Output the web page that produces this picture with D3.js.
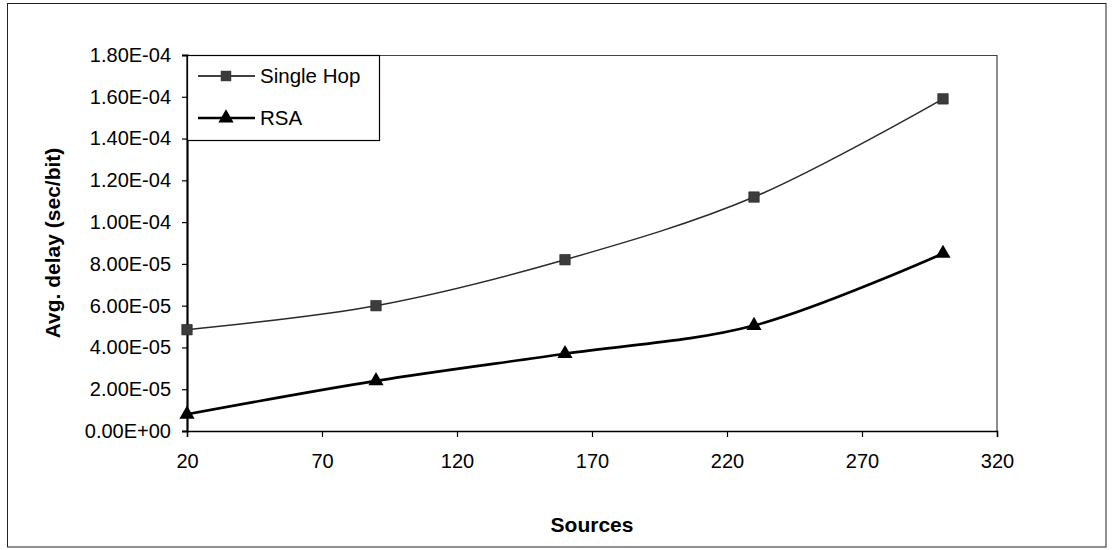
<!DOCTYPE html>
<html>
<head>
<meta charset="utf-8">
<script src="https://cdn.jsdelivr.net/npm/d3@7"></script>
<style>
  body { margin: 0; background: #fff; }
  text { font-family: "Liberation Sans", Arial, sans-serif; fill: #000; }
</style>
</head>
<body>
<div id="chart-area"></div>
<script>
// Data
var sources = [20, 90, 160, 230, 300];
var singleHop = [4.85e-5, 6.0e-5, 8.2e-5, 1.12e-4, 1.59e-4];
var rsa = [8.0e-6, 2.4e-5, 3.7e-5, 5.05e-5, 8.5e-5];

var xTicks = [20, 70, 120, 170, 220, 270, 320];
var yTicks = [0, 2e-5, 4e-5, 6e-5, 8e-5, 1e-4, 1.2e-4, 1.4e-4, 1.6e-4, 1.8e-4];
var yTickLabels = ["0.00E+00", "2.00E-05", "4.00E-05", "6.00E-05", "8.00E-05",
                   "1.00E-04", "1.20E-04", "1.40E-04", "1.60E-04", "1.80E-04"];

var W = 1112, H = 550;
var margin = { left: 187, right: 115, top: 55, bottom: 119 };
var width = W - margin.left - margin.right,
    height = H - margin.top - margin.bottom;

var svg = d3.select("#chart-area")
    .append("svg")
        .attr("width", W)
        .attr("height", H);

// outer frame
svg.append("rect")
    .attr("x", 7.5).attr("y", 3.5)
    .attr("width", W - 6 - 7.5).attr("height", H - 3 - 3.5)
    .attr("fill", "none")
    .attr("stroke", "#222")
    .attr("stroke-width", 1);

var g = svg.append("g")
    .attr("transform", "translate(" + margin.left + ", " + margin.top + ")");

// X Scale
var x = d3.scaleLinear()
    .domain([20, 320])
    .range([0, width]);

// Y Scale
var y = d3.scaleLinear()
    .domain([0, 1.8e-4])
    .range([height, 0]);

// plot area frame (top + right)
g.append("path")
    .attr("d", "M0,0.5H" + width + "V" + height)
    .attr("fill", "none")
    .attr("stroke", "#444")
    .attr("stroke-width", 1.2);

// X Axis
var xAxisCall = d3.axisBottom(x)
    .tickValues(xTicks)
    .tickSize(6)
    .tickPadding(17)
    .tickFormat(function(d){ return d; });
var xAxisGroup = g.append("g")
    .attr("transform", "translate(0," + height + ")")
    .call(xAxisCall);

// Y Axis
var yAxisCall = d3.axisLeft(y)
    .tickValues(yTicks)
    .tickSize(5)
    .tickPadding(11)
    .tickFormat(function(d, i){ return yTickLabels[i]; });
var yAxisGroup = g.append("g")
    .call(yAxisCall);

[xAxisGroup, yAxisGroup].forEach(function(ax){
    ax.selectAll("text")
        .attr("font-size", "20px")
        .attr("font-family", "Liberation Sans, Arial, sans-serif")
        .attr("fill", "#000");
    ax.selectAll("line").attr("stroke", "#000").attr("stroke-width", 1.2);
    ax.select(".domain").attr("stroke", "#000");
});
xAxisGroup.select(".domain").attr("stroke-width", 1.5);
yAxisGroup.select(".domain").attr("stroke-width", 2.2);

// X Label
g.append("text")
    .attr("x", width / 2)
    .attr("y", height + 101)
    .attr("font-size", "21px")
    .attr("font-weight", "bold")
    .attr("text-anchor", "middle")
    .text("Sources");

// Y Label
g.append("text")
    .attr("x", -(height / 2))
    .attr("y", -127)
    .attr("font-size", "21px")
    .attr("font-weight", "bold")
    .attr("text-anchor", "middle")
    .attr("transform", "rotate(-90)")
    .text("Avg. delay (sec/bit)");

var line = d3.line()
    .x(function(d){ return x(d[0]); })
    .y(function(d){ return y(d[1]); })
    .curve(d3.curveCatmullRom.alpha(0.5));

var hopPts = d3.zip(sources, singleHop);
var rsaPts = d3.zip(sources, rsa);

g.append("path")
    .datum(hopPts)
    .attr("d", line)
    .attr("fill", "none")
    .attr("stroke", "#2a2a2a")
    .attr("stroke-width", 1.5);

g.append("path")
    .datum(rsaPts)
    .attr("d", line)
    .attr("fill", "none")
    .attr("stroke", "#000")
    .attr("stroke-width", 2.6);

var square = d3.symbol().type(d3.symbolSquare).size(110);
var triangle = d3.symbol().type(d3.symbolTriangle).size(100);

g.selectAll(".hop-mark")
    .data(hopPts)
    .enter().append("path")
        .attr("class", "hop-mark")
        .attr("d", square)
        .attr("transform", function(d){ return "translate(" + x(d[0]) + "," + y(d[1]) + ")"; })
        .attr("fill", "#3c3c3c")
        .attr("stroke", "#222")
        .attr("stroke-width", 0.6);

g.selectAll(".rsa-mark")
    .data(rsaPts)
    .enter().append("path")
        .attr("class", "rsa-mark")
        .attr("d", triangle)
        .attr("transform", function(d){ return "translate(" + x(d[0]) + "," + y(d[1]) + ")"; })
        .attr("fill", "#000");

// Legend
var legend = g.append("g");
legend.append("rect")
    .attr("x", 0.5).attr("y", 0.5)
    .attr("width", 192).attr("height", 85)
    .attr("fill", "#fff")
    .attr("stroke", "#000")
    .attr("stroke-width", 1.2);

var legendItems = [
    { name: "Single Hop", sym: square, fill: "#3c3c3c", sw: 1.5, y: 21 },
    { name: "RSA", sym: triangle, fill: "#000", sw: 2.6, y: 63 }
];
legendItems.forEach(function(it){
    legend.append("line")
        .attr("x1", 11).attr("x2", 68)
        .attr("y1", it.y).attr("y2", it.y)
        .attr("stroke", "#000")
        .attr("stroke-width", it.sw);
    legend.append("path")
        .attr("d", it.sym)
        .attr("transform", "translate(39," + it.y + ")")
        .attr("fill", it.fill);
    legend.append("text")
        .attr("x", 73)
        .attr("y", it.y)
        .attr("dy", "0.35em")
        .attr("font-size", "20.5px")
        .text(it.name);
});
</script>
</body>
</html>
